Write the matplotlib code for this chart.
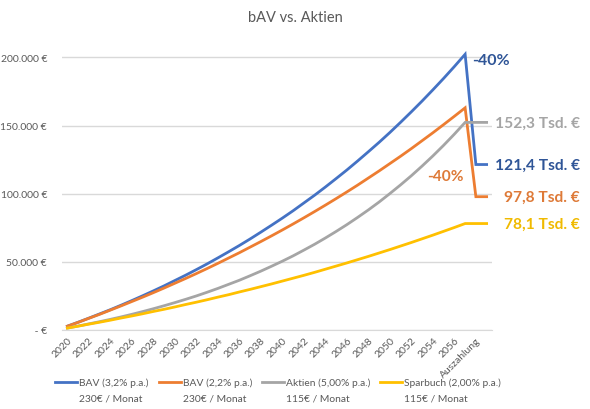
import matplotlib
matplotlib.use("Agg")
import matplotlib.pyplot as plt
from matplotlib.lines import Line2D

# Kategorien: 2020..2057, Auszahlung, leere Kategorie am Ende
years = [str(y) for y in range(2020, 2058)]
categories = years + ["Auszahlung", ""]

# Werte in Tsd. €
bav_32 = [2.8, 5.7, 8.7, 11.8, 14.9, 18.2, 21.6, 25.1, 28.7, 32.4,
          36.3, 40.2, 44.3, 48.5, 52.9, 57.4, 62.0, 66.8, 71.8, 76.9,
          82.1, 87.5, 93.2, 98.9, 104.9, 111.1, 117.4, 124.0, 130.8, 137.7,
          144.9, 152.4, 160.1, 168.0, 176.2, 184.6, 193.3, 202.3,
          121.4, 121.4]
bav_22 = [2.8, 5.6, 8.6, 11.5, 14.6, 17.7, 20.9, 24.1, 27.4, 30.8,
          34.3, 37.8, 41.4, 45.1, 48.9, 52.8, 56.7, 60.8, 64.9, 69.1,
          73.4, 77.8, 82.3, 86.9, 91.6, 96.4, 101.3, 106.3, 111.5, 116.7,
          122.1, 127.5, 133.1, 138.9, 144.7, 150.7, 156.8, 163.0,
          97.8, 97.8]
aktien = [1.4, 2.9, 4.5, 6.1, 7.8, 9.6, 11.5, 13.5, 15.6, 17.8,
          20.1, 22.5, 25.0, 27.7, 30.5, 33.5, 36.5, 39.8, 43.2, 46.8,
          50.5, 54.4, 58.6, 62.9, 67.5, 72.3, 77.3, 82.6, 88.1, 93.9,
          100.1, 106.5, 113.2, 120.3, 127.7, 135.5, 143.7, 152.3,
          152.3, 152.3]
sparbuch = [1.4, 2.8, 4.3, 5.7, 7.2, 8.8, 10.3, 11.9, 13.6, 15.2,
            16.9, 18.7, 20.4, 22.2, 24.1, 25.9, 27.9, 29.8, 31.8, 33.8,
            35.9, 38.0, 40.1, 42.3, 44.6, 46.9, 49.2, 51.6, 54.0, 56.5,
            59.0, 61.6, 64.2, 66.9, 69.6, 72.4, 75.2, 78.1,
            78.1, 78.1]

series = [
    (bav_32, "#4472C4", "BAV (3,2% p.a.)\n230€ / Monat", "#2F5597"),
    (bav_22, "#ED7D31", "BAV (2,2% p.a.)\n230€ / Monat", "#DE7A38"),
    (aktien, "#A5A5A5", "Aktien (5,00% p.a.)\n115€ / Monat", "#A5A5A5"),
    (sparbuch, "#FFC000", "Sparbuch (2,00% p.a.)\n115€ / Monat", "#F0BA00"),
]
y_ticks = [0, 50000, 100000, 150000, 200000]
y_tick_labels = [" - €", "50.000 €", "100.000 €", "150.000 €", "200.000 €"]

plt.rcParams['font.family'] = ['Lato', 'DejaVu Sans']
text_grey = "#595959"
grid_grey = "#D9D9D9"

fig = plt.figure(figsize=(5.9, 4.1), dpi=100)
ax = fig.add_axes([0.1051, 0.1927, 0.7288, 0.6815])

x = list(range(len(categories)))
for vals, col, lab, tcol in series:
    ax.plot(x, [v * 1000 for v in vals], color=col, lw=2.0, clip_on=False,
            solid_joinstyle='miter')
    # Endwert-Beschriftung rechts
    txt = f"{vals[-1]:.1f}".replace(".", ",") + " Tsd. €"
    ax.annotate(txt, xy=(x[-1], vals[-1] * 1000), xytext=(67, 0),
                textcoords="offset points", ha="right", va="center",
                fontsize=11.2, fontweight="bold", color=tcol)

# -40% Hinweise
ax.annotate("-40%", xy=(37, bav_32[37] * 1000), xytext=(5, -4),
            textcoords="offset points", ha="left", va="center",
            fontsize=11.5, fontweight="bold", color="#2F5597")
ax.text(36.9, 113000, "-40%", ha="right", va="center",
        fontsize=11.2, fontweight="bold", color="#DE7A38")

ax.set_xlim(-0.5, len(categories) - 0.5)
ax.set_ylim(0, 205000)
ax.set_yticks(y_ticks)
ax.set_yticklabels(y_tick_labels)
ax.set_xticks(x[::2])
ax.set_xticklabels(categories[::2], rotation=45, ha="right",
                   rotation_mode="anchor")
ax.tick_params(axis="both", length=0, labelsize=7.5, labelcolor=text_grey)
ax.tick_params(axis="x", pad=4)
ax.tick_params(axis="y", pad=10.8)
ax.grid(axis="y", color=grid_grey, lw=1)
ax.set_axisbelow(True)
for s in ["top", "right", "left"]:
    ax.spines[s].set_visible(False)
ax.spines["bottom"].set_color(grid_grey)

fig.text(0.5, 1 - 18 / 410, "bAV vs. Aktien", ha="center", va="center",
         fontsize=10.5, color=text_grey)

# Legende (Excel-Stil: Linie an der ersten Textzeile)
leg_x = [55, 159, 262, 380]
for (vals, col, lab, tcol), lx in zip(series, leg_x):
    y_line = 1 - 383 / 410
    fig.add_artist(Line2D([lx / 590, (lx + 22) / 590], [y_line, y_line],
                          color=col, lw=2.0))
    l1, l2 = lab.split("\n")
    fig.text((lx + 24) / 590, y_line, l1, ha="left", va="center",
             fontsize=7.4, color=text_grey)
    fig.text((lx + 24) / 590, 1 - 399 / 410, l2, ha="left", va="center",
             fontsize=7.4, color=text_grey)

fig.savefig("out.png", dpi=100)
